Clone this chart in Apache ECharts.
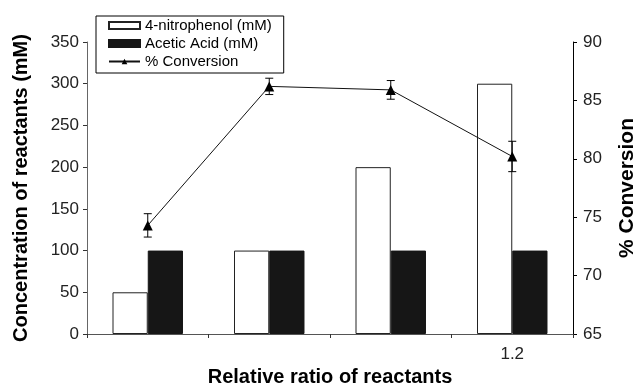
<!DOCTYPE html>
<html>
<head>
<meta charset="utf-8">
<script src="https://cdn.jsdelivr.net/npm/echarts@6/dist/echarts.min.js"></script>
<style>
  html, body { margin: 0; padding: 0; background: #fff; }
  #chart { width: 633px; height: 384px; }
</style>
</head>
<body>
<div id="chart"></div>
<script>
// 数据
const categories = ['', '', '', '1.2']
const nitrophenol = [50, 100, 200, 300]
const aceticAcid = [100, 100, 100, 100]
const conversion = [74.3, 86.2, 85.9, 80.2]
const conversionErr = [1.0, 0.7, 0.8, 1.3]

const chartDom = document.getElementById('chart')
const chartInstance = echarts.init(chartDom)

const font = 'Liberation Sans, Arial, sans-serif'

// 误差棒
const errData = conversion.map((v, i) => [i, v - conversionErr[i], v + conversionErr[i]])

const renderErr = (params, api) => {
  const lo = api.coord([api.value(0), api.value(1)])
  const hi = api.coord([api.value(0), api.value(2)])
  const cap = 4
  const style = { stroke: '#000', lineWidth: 1 }
  return {
    type: 'group',
    children: [
      { type: 'line', shape: { x1: lo[0], y1: lo[1], x2: hi[0], y2: hi[1] }, style },
      { type: 'line', shape: { x1: lo[0] - cap, y1: lo[1], x2: lo[0] + cap, y2: lo[1] }, style },
      { type: 'line', shape: { x1: hi[0] - cap, y1: hi[1], x2: hi[0] + cap, y2: hi[1] }, style }
    ]
  }
}

const option = {
  animation: false,
  textStyle: { fontFamily: font },
  grid: { left: 87, right: 60, top: 42, bottom: 50, outerBoundsMode: 'none' },
  legend: {
    orient: 'vertical',
    left: 96,
    top: 16,
    itemWidth: 31,
    itemHeight: 7,
    itemGap: 3,
    padding: [2, 12, 4, 12],
    borderColor: '#000',
    borderWidth: 1,
    textStyle: { fontSize: 15, color: '#000', fontFamily: font },
    data: [
      { name: '4-nitrophenol (mM)', icon: 'rect' },
      { name: 'Acetic Acid (mM)', icon: 'rect' },
      { name: '% Conversion' }
    ]
  },
  xAxis: {
    type: 'category',
    data: categories,
    name: 'Relative ratio of reactants',
    nameLocation: 'middle',
    nameGap: 33,
    nameTextStyle: { fontSize: 20, fontWeight: 'bold', color: '#000' },
    axisLine: { lineStyle: { color: '#555' } },
    axisTick: { show: true, length: 4, lineStyle: { color: '#333' } },
    axisLabel: { fontSize: 17, color: '#222', margin: 12 }
  },
  yAxis: [
    {
      type: 'value',
      min: 0,
      max: 350,
      interval: 50,
      name: 'Concentration of reactants (mM)',
      nameLocation: 'middle',
      nameGap: 56,
      nameTextStyle: { fontSize: 20, fontWeight: 'bold', color: '#000' },
      axisLine: { show: true, lineStyle: { color: '#666' } },
      axisTick: { show: true, length: 4, lineStyle: { color: '#333' } },
      axisLabel: { fontSize: 17, color: '#222', margin: 8 },
      splitLine: { show: false }
    },
    {
      type: 'value',
      min: 65,
      max: 90,
      interval: 5,
      position: 'right',
      name: '% Conversion',
      nameLocation: 'middle',
      nameGap: 44,
      nameRotate: 90,
      nameTextStyle: { fontSize: 21, fontWeight: 'bold', color: '#000' },
      axisLine: { show: true, lineStyle: { color: '#000' } },
      axisTick: { show: true, length: 4, lineStyle: { color: '#000' } },
      axisLabel: { fontSize: 17, color: '#222', margin: 10 },
      splitLine: { show: false }
    }
  ],
  series: [
    {
      name: '4-nitrophenol (mM)',
      type: 'bar',
      data: nitrophenol,
      barGap: '0%',
      barCategoryGap: '42%',
      itemStyle: { color: '#fff', borderColor: '#222', borderWidth: 1 }
    },
    {
      name: 'Acetic Acid (mM)',
      type: 'bar',
      data: aceticAcid,
      itemStyle: { color: '#161616', borderColor: '#161616', borderWidth: 1 }
    },
    {
      name: '% Conversion',
      type: 'line',
      yAxisIndex: 1,
      data: conversion,
      symbol: 'triangle',
      symbolSize: 10,
      lineStyle: { color: '#111', width: 1 },
      itemStyle: { color: '#000' },
      z: 5
    },
    {
      type: 'custom',
      yAxisIndex: 1,
      data: errData,
      renderItem: renderErr,
      encode: { x: 0, y: [1, 2] },
      z: 4
    }
  ]
}

chartInstance.setOption(option)
</script>
</body>
</html>
